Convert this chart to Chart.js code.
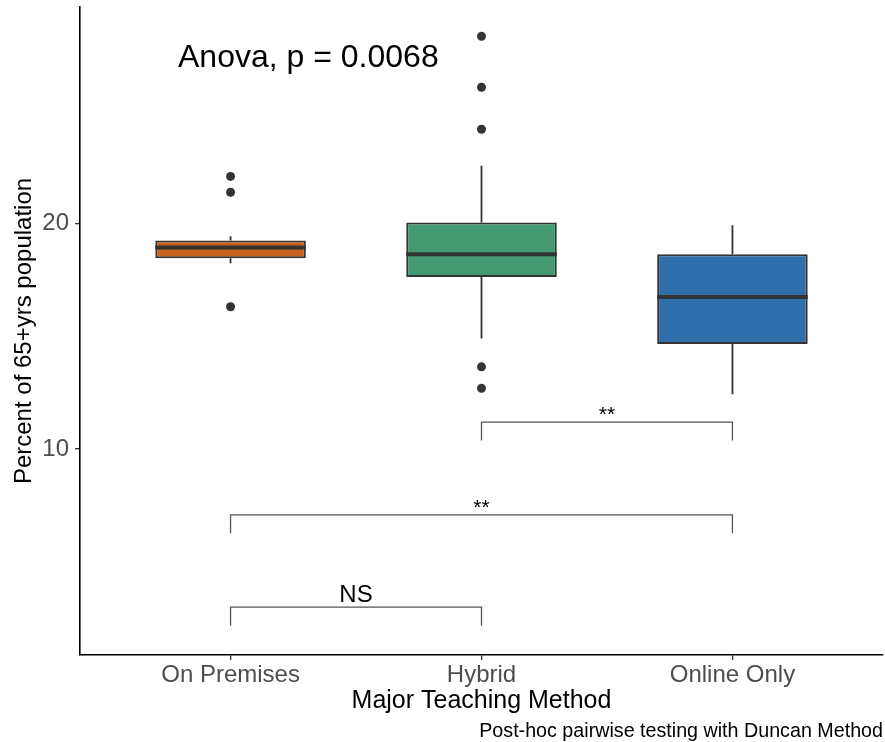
<!DOCTYPE html>
<html>
<head>
<meta charset="utf-8">
<script src="https://cdn.jsdelivr.net/npm/chart.js@4.4.1/dist/chart.umd.min.js"></script>
<style>
	body { margin: 0; background: #fff; overflow: hidden; }
	#wrap { width: 885px; height: 742px; }
	canvas { display: block; }
</style>
</head>
<body>
<div id="wrap"><canvas id="chart_box"></canvas></div>
<script>
// categories and box stats
var categories = ["On Premises", "Hybrid", "Online Only"];
var positions = [1, 2, 3];
var q1 = [18.45, 17.62, 14.65];
var q3 = [19.23, 20.03, 18.63];
var medians = [18.92, 18.63, 16.73];
var whiskerLow = [18.23, 14.90, 12.43];
var whiskerHigh = [19.42, 22.54, 19.91];
var outliers = [
	[22.07, 21.37, 16.30],
	[28.27, 26.02, 24.16, 13.64, 12.69],
	[]
];
var boxColors = ["#c8621f", "#449a73", "#2e6eaa"];
var yTicks = [10, 20];

// pairwise brackets
var bracketFrom = [1, 1, 2];
var bracketTo = [2, 3, 3];
var bracketTop = [3.0, 7.09, 11.19];
var bracketBottom = [2.18, 6.27, 10.38];
var bracketLabels = ["NS", "**", "**"];

var anovaText = "Anova, p = 0.0068";
var anovaPos = { x: 1.31, y: 27.3 };
var caption = "Post-hoc pairwise testing with Duncan Method";

var fontFamily = "'Liberation Sans', Arial, Helvetica, sans-serif";
var boxWidth = 0.6;

/* build datasets */
var boxData = [], medianData = [], whiskerData = [], outlierData = [], bracketData = [];
for (var i = 0; i < categories.length; i++) {
	var x = positions[i];
	boxData.push({ x: x, y: [q1[i], q3[i]] });
	medianData.push({ x: x - boxWidth / 2, y: medians[i] }, { x: x + boxWidth / 2, y: medians[i] }, { x: x + 0.5, y: null });
	whiskerData.push({ x: x, y: whiskerLow[i] }, { x: x, y: q1[i] }, { x: x, y: null });
	whiskerData.push({ x: x, y: q3[i] }, { x: x, y: whiskerHigh[i] }, { x: x, y: null });
	for (var j = 0; j < outliers[i].length; j++) {
		outlierData.push({ x: x, y: outliers[i][j] });
	}
}
for (var b = 0; b < bracketLabels.length; b++) {
	bracketData.push(
		{ x: bracketFrom[b], y: bracketBottom[b] },
		{ x: bracketFrom[b], y: bracketTop[b] },
		{ x: bracketTo[b], y: bracketTop[b] },
		{ x: bracketTo[b], y: bracketBottom[b] },
		{ x: bracketTo[b], y: null }
	);
}

/* text labels: brackets, anova, caption */
var textPlugin = {
	id: "texts",
	afterDatasetsDraw: function(chart) {
		var ctx = chart.ctx;
		var xs = chart.scales.x, ys = chart.scales.y;
		ctx.save();
		ctx.fillStyle = "#000";
		ctx.textAlign = "center";
		ctx.textBaseline = "alphabetic";
		for (var b = 0; b < bracketLabels.length; b++) {
			var mid = (bracketFrom[b] + bracketTo[b]) / 2;
			var px = xs.getPixelForValue(mid);
			var py = ys.getPixelForValue(bracketTop[b]);
			if (bracketLabels[b] == "NS") {
				ctx.font = "24px " + fontFamily;
				ctx.fillText(bracketLabels[b], px, py - 5);
			} else {
				ctx.font = "21px " + fontFamily;
				ctx.fillText(bracketLabels[b], px, py - 1);
			}
		}
		ctx.font = "32px " + fontFamily;
		ctx.textBaseline = "middle";
		ctx.fillText(anovaText, xs.getPixelForValue(anovaPos.x), ys.getPixelForValue(anovaPos.y));
		ctx.font = "19.7px " + fontFamily;
		ctx.textAlign = "right";
		ctx.textBaseline = "alphabetic";
		ctx.fillText(caption, chart.width - 2, 737);
		ctx.restore();
	}
};

var ctx = document.getElementById("chart_box").getContext("2d");
var myChart = new Chart(ctx, {
	type: "bar",
	data: {
		datasets: [{
			type: "line",
			data: whiskerData,
			borderColor: "#333333",
			borderWidth: 1.8,
			pointRadius: 0,
			spanGaps: false,
			order: 3
		}, {
			type: "bar",
			data: boxData,
			backgroundColor: boxColors,
			borderColor: "#333333",
			borderWidth: 2,
			borderSkipped: false,
			barPercentage: boxWidth,
			categoryPercentage: 1,
			order: 2
		}, {
			type: "line",
			data: medianData,
			borderColor: "#333333",
			borderWidth: 4,
			borderCapStyle: "butt",
			pointRadius: 0,
			spanGaps: false,
			order: 1
		}, {
			type: "line",
			data: outlierData,
			showLine: false,
			pointRadius: 4.5,
			pointBackgroundColor: "#333333",
			pointBorderWidth: 0,
			order: 0
		}, {
			type: "line",
			data: bracketData,
			borderColor: "#555555",
			borderWidth: 1.3,
			pointRadius: 0,
			spanGaps: false,
			order: 4
		}]
	},
	options: {
		responsive: true,
		maintainAspectRatio: false,
		animation: false,
		layout: { autoPadding: false, padding: { top: 7, right: 2, left: 0, bottom: 0 } },
		plugins: {
			legend: { display: false },
			tooltip: { enabled: false }
		},
		scales: {
			x: {
				type: "linear",
				min: 0.4,
				max: 3.6,
				offset: false,
				afterBuildTicks: function(scale) {
					scale.ticks = positions.map(function(v){ return { value: v }; });
				},
				afterFit: function(scale) {
					scale.height = 87;
					scale.paddingLeft = 0;
					scale.paddingRight = 0;
				},
				ticks: {
					color: "#4d4d4d",
					font: { family: fontFamily, size: 24 },
					padding: 1,
					maxRotation: 0,
					autoSkip: false,
					callback: function(v) { return categories[positions.indexOf(v)]; }
				},
				grid: { offset: false, drawOnChartArea: false, drawTicks: true, tickLength: 5, color: "#333333", lineWidth: 1.3 },
				border: { display: true, color: "#000", width: 1.6 },
				title: {
					display: true,
					text: "Major Teaching Method",
					color: "#000",
					font: { family: fontFamily, size: 25, lineHeight: 1 },
					padding: { top: 0, bottom: 28 }
				}
			},
			y: {
				min: 0.885,
				max: 29.57,
				afterBuildTicks: function(scale) {
					scale.ticks = yTicks.map(function(v){ return { value: v }; });
				},
				afterFit: function(scale) {
					scale.width = 80;
					scale.paddingTop = 0;
					scale.paddingBottom = 0;
				},
				ticks: {
					color: "#4d4d4d",
					font: { family: fontFamily, size: 24 },
					padding: 6
				},
				grid: { drawOnChartArea: false, drawTicks: true, tickLength: 5, color: "#333333", lineWidth: 1.3 },
				border: { display: true, color: "#000", width: 1.6 },
				title: {
					display: true,
					text: "Percent of 65+yrs population",
					color: "#000",
					font: { family: fontFamily, size: 24, lineHeight: 1 },
					padding: { top: 12, bottom: 0 }
				}
			}
		}
	},
	plugins: [textPlugin]
});
</script>
</body>
</html>
